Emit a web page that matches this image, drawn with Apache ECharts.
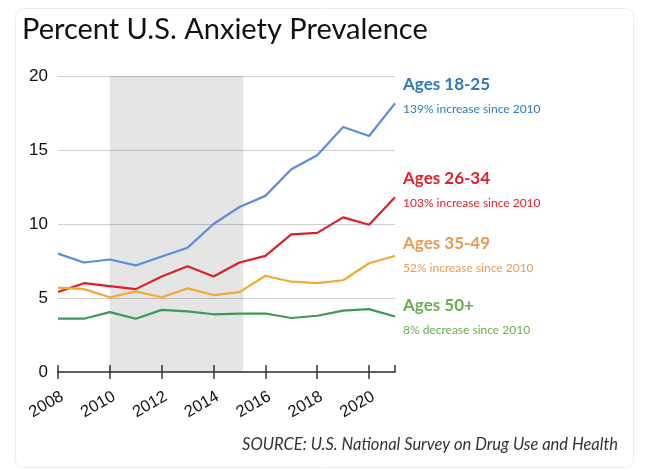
<!DOCTYPE html>
<html><head><meta charset="utf-8">
<script src="https://cdn.jsdelivr.net/npm/echarts@6/dist/echarts.min.js"></script>
<style>html,body{margin:0;padding:0;background:#fff}#c{width:660px;height:470px}</style>
</head><body><div id="c"></div>
<script>
const years = [2008,2009,2010,2011,2012,2013,2014,2015,2016,2017,2018,2019,2020,2021];
const ages1825 = [8.0,7.4,7.6,7.2,7.8,8.4,10.0,11.15,11.9,13.7,14.65,16.55,15.95,18.15];
const ages2634 = [5.4,6.0,5.8,5.6,6.45,7.15,6.45,7.4,7.85,9.3,9.4,10.45,9.95,11.8];
const ages3549 = [5.7,5.6,5.05,5.45,5.05,5.65,5.2,5.4,6.5,6.1,6.0,6.2,7.35,7.85];
const ages50 = [3.6,3.6,4.05,3.6,4.2,4.1,3.9,3.95,3.95,3.65,3.8,4.15,4.25,3.75];
const seriesNames = ['Ages 18-25','Ages 26-34','Ages 35-49','Ages 50+'];
const seriesNotes = ['139% increase since 2010','103% increase since 2010','52% increase since 2010','8% decrease since 2010'];
const shadeRange = [2010, 2015.15];
const yTicks = [0,5,10,15,20];

const lineColors = ['#5b8ddf','#de1f2a','#f0aa35','#3c9a55'];
const labelColors = ['#2f78bf','#e0202c','#ea9a55','#6aac55'];
const labelTops = [76,170,235,297];

const pair = (arr) => years.map((y,i)=>[y,arr[i]]);
const chart = echarts.init(document.getElementById('c'), null, {renderer:'canvas'});

const series = [ages1825,ages2634,ages3549,ages50].map((d,i)=>({
  name: seriesNames[i], type:'line', data: pair(d), symbol:'none',
  lineStyle:{color:lineColors[i], width:2.2}, z: 3,
  markArea: i===0 ? {silent:true, itemStyle:{color:'rgba(0,0,0,0.1)'}, data:[[{xAxis:shadeRange[0]},{xAxis:shadeRange[1]}]]} : undefined
}));

const graphics = [
  {type:'rect', shape:{x:15.5,y:8.5,width:618,height:459,r:8}, style:{fill:'none', stroke:'#ececec', lineWidth:1}, z:-10},
  {type:'text', left:22, top:15, style:{text:'Percent U.S. Anxiety Prevalence', font:'29px Lato', fill:'#111'}},
  {type:'text', left:242, top:436, style:{text:'SOURCE: U.S. National Survey on Drug Use and Health', font:'italic 16.5px Lato', fill:'#333'}}
];
seriesNames.forEach((n,i)=>{
  graphics.push({type:'text', left:403, top:labelTops[i], style:{text:n, font:'bold 17px Lato', fill:labelColors[i]}});
  graphics.push({type:'text', left:403, top:labelTops[i]+27, style:{text:seriesNotes[i], font:'12px Lato', fill:labelColors[i]}});
});

const xCommon = {type:'value', min:2008, max:2021, interval:2, position:'bottom'};
chart.setOption({
  animation:false,
  grid:{left:58, right:265, top:76, bottom:98},
  xAxis:[
    Object.assign({}, xCommon, {
      axisLine:{show:true, onZero:false, lineStyle:{color:'#333', width:1.5}},
      axisTick:{show:true, length:7, lineStyle:{color:'#333', width:1.5}},
      axisLabel:{rotate:30, align:'right', verticalAlign:'top', margin:16, showMaxLabel:false,
        fontSize:16.5, color:'#111', fontFamily:'Liberation Sans',
        formatter:(v)=> (v%2===0 && v<2021) ? String(v) : ''},
      splitLine:{show:false}
    }),
    Object.assign({}, xCommon, {
      axisLine:{show:false}, axisLabel:{show:false}, splitLine:{show:false},
      axisTick:{show:true, inside:true, length:7, lineStyle:{color:'#333', width:1.5}}
    })
  ],
  yAxis:{type:'value', min:yTicks[0], max:yTicks[yTicks.length-1], interval:5,
    axisLine:{show:false}, axisTick:{show:false},
    axisLabel:{fontSize:17, color:'#111', fontFamily:'Liberation Sans', margin:10},
    splitLine:{lineStyle:{color:'#d0d0d0', width:1.2}}},
  series: series,
  graphic: graphics
});
</script></body></html>
